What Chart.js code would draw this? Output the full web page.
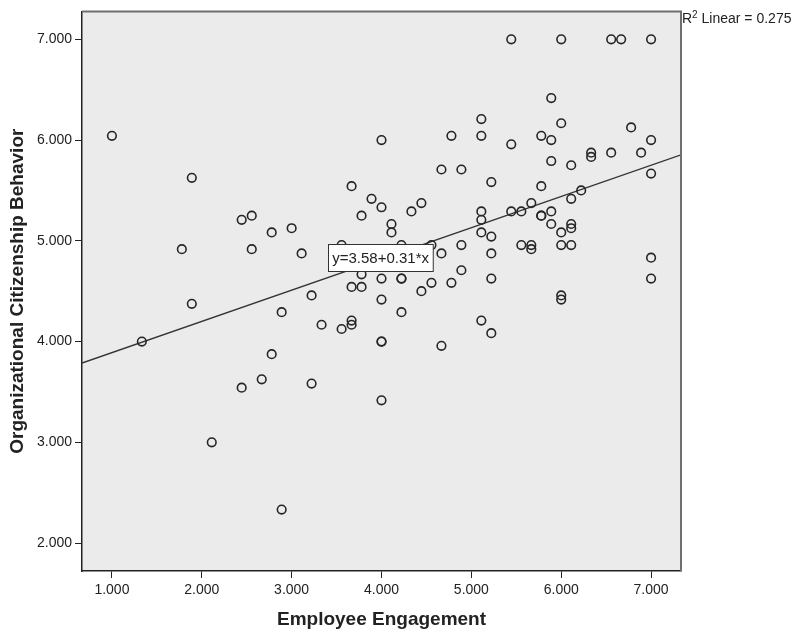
<!DOCTYPE html>
<html>
<head>
<meta charset="utf-8">
<script src="https://cdn.jsdelivr.net/npm/chart.js@4.4.1/dist/chart.umd.min.js"></script>
<style>
  html, body { margin: 0; padding: 0; background: #ffffff; }
  canvas { display: block; }
</style>
</head>
<body>
<canvas id="chart" width="793" height="633"></canvas>
<script>
// Employee engagement (x) against organizational citizenship behavior (y), one entry per respondent
const engagement = [
  1.000, 1.333, 1.778, 1.889, 1.889, 2.111, 2.444, 2.444, 2.556, 2.556,
  2.667, 2.778, 2.778, 2.889, 2.889, 3.000, 3.111, 3.222, 3.222, 3.333,
  3.556, 3.556, 3.667, 3.667, 3.667, 3.667, 3.778, 3.778, 3.778, 3.889,
  3.889, 4.000, 4.000, 4.000, 4.000, 4.000, 4.000, 4.000, 4.111, 4.111,
  4.222, 4.222, 4.222, 4.222, 4.333, 4.444, 4.444, 4.556, 4.556, 4.667,
  4.667, 4.667, 4.778, 4.778, 4.889, 4.889, 4.889, 5.111, 5.111, 5.111,
  5.111, 5.111, 5.111, 5.222, 5.222, 5.222, 5.222, 5.222, 5.444, 5.444,
  5.444, 5.556, 5.556, 5.667, 5.667, 5.667, 5.778, 5.778, 5.778, 5.778,
  5.889, 5.889, 5.889, 5.889, 5.889, 6.000, 6.000, 6.000, 6.000, 6.000,
  6.000, 6.111, 6.111, 6.111, 6.111, 6.111, 6.222, 6.333, 6.333, 6.556,
  6.556, 6.667, 6.778, 6.889, 7.000, 7.000, 7.000, 7.000, 7.000
];
const citizenship = [
  6.042, 4.000, 4.917, 5.625, 4.375, 3.000, 5.208, 3.542, 5.250, 4.917,
  3.625, 5.083, 3.875, 4.292, 2.333, 5.125, 4.875, 4.458, 3.583, 4.167,
  4.958, 4.125, 5.542, 4.542, 4.208, 4.167, 5.250, 4.667, 4.542, 5.417,
  4.917, 6.000, 5.333, 4.625, 4.417, 4.000, 4.000, 3.417, 5.167, 5.083,
  4.958, 4.625, 4.625, 4.292, 5.292, 5.375, 4.500, 4.958, 4.583, 5.708,
  4.875, 3.958, 6.042, 4.583, 5.708, 4.958, 4.708, 6.208, 6.042, 5.292,
  5.208, 5.083, 4.208, 5.583, 5.042, 4.875, 4.625, 4.083, 7.000, 5.958,
  5.292, 5.292, 4.958, 5.375, 4.958, 4.917, 6.042, 5.542, 5.250, 5.250,
  6.417, 6.000, 5.792, 5.292, 5.167, 7.000, 6.167, 5.083, 4.958, 4.458,
  4.417, 5.750, 5.417, 5.167, 5.125, 4.958, 5.500, 5.875, 5.833, 7.000,
  5.875, 7.000, 6.125, 5.875, 7.000, 6.000, 5.667, 4.833, 4.625
];

// Axis tick values
const xTickValues = [1, 2, 3, 4, 5, 6, 7];
const yTickValues = [2, 3, 4, 5, 6, 7];

// Linear fit reported on the chart
const fitIntercept = 3.58;
const fitSlope = 0.31;
const rSquared = 0.275;

const xTitle = 'Employee Engagement';
const yTitle = 'Organizational Citizenship Behavior';

// Axis ranges (SPSS-style padding around the data)
const X_MIN = 0.667, X_MAX = 7.333;
const Y_MIN = 1.723, Y_MAX = 7.277;

const FONT = '"Liberation Sans", Arial, Helvetica, sans-serif';
const INK = '#222222';

const points = engagement.map((x, i) => ({ x: x, y: citizenship[i] }));
const fitLine = [X_MIN, X_MAX].map(x => ({ x: x, y: fitIntercept + fitSlope * x }));

// Plot-area fill, frame, fit equation box and R² note
const plotDecor = {
  id: 'plotDecor',
  beforeDraw(chart) {
    const a = chart.chartArea, ctx = chart.ctx;
    ctx.save();
    ctx.fillStyle = '#EBEBEB';
    ctx.fillRect(a.left, a.top, a.right - a.left, a.bottom - a.top);
    ctx.restore();
  },
  afterDraw(chart) {
    const a = chart.chartArea, ctx = chart.ctx;
    const xs = chart.scales.x, ys = chart.scales.y;
    ctx.save();
    // top and right edges of the frame
    ctx.strokeStyle = '#6f6f6f';
    ctx.lineWidth = 2;
    ctx.beginPath();
    ctx.moveTo(a.left, a.top);
    ctx.lineTo(a.right, a.top);
    ctx.lineTo(a.right, a.bottom);
    ctx.stroke();

    // equation box
    const label = 'y=' + fitIntercept.toFixed(2) + '+' + fitSlope.toFixed(2) + '*x';
    ctx.font = '15px ' + FONT;
    const tw = ctx.measureText(label).width;
    const cx = xs.getPixelForValue(3.99);
    const cy = ys.getPixelForValue(4.835);
    const bw = tw + 8, bh = 27;
    const bx = Math.round(cx - bw / 2) + 0.5, by = Math.round(cy - bh / 2) + 0.5;
    ctx.fillStyle = '#ffffff';
    ctx.fillRect(bx, by, bw, bh);
    ctx.strokeStyle = '#333333';
    ctx.lineWidth = 1;
    ctx.strokeRect(bx, by, bw, bh);
    ctx.fillStyle = INK;
    ctx.textAlign = 'center';
    ctx.textBaseline = 'middle';
    ctx.fillText(label, cx, by + bh / 2 + 1);

    // R² Linear note
    ctx.textAlign = 'left';
    ctx.textBaseline = 'alphabetic';
    let tx = a.right + 1;
    const base = 23;
    ctx.font = '14px ' + FONT;
    ctx.fillText('R', tx, base);
    tx += ctx.measureText('R').width;
    ctx.font = '10px ' + FONT;
    ctx.fillText('2', tx, base - 5);
    tx += ctx.measureText('2').width;
    ctx.font = '14px ' + FONT;
    ctx.fillText(' Linear = ' + rSquared.toFixed(3), tx, base);
    ctx.restore();
  }
};

new Chart(document.getElementById('chart'), {
  type: 'scatter',
  data: {
    datasets: [
      {
        type: 'line',
        data: fitLine,
        borderColor: '#333333',
        borderWidth: 1.3,
        pointRadius: 0,
        fill: false,
        order: 2
      },
      {
        data: points,
        pointStyle: 'circle',
        pointRadius: 4.3,
        pointBorderWidth: 1.6,
        pointBorderColor: '#262626',
        pointBackgroundColor: 'rgba(0,0,0,0)',
        order: 1
      }
    ]
  },
  options: {
    responsive: false,
    animation: false,
    devicePixelRatio: 1,
    layout: { padding: { top: 9, right: 112, left: 0, bottom: 0 } },
    plugins: {
      legend: { display: false },
      tooltip: { enabled: false }
    },
    scales: {
      x: {
        type: 'linear',
        min: X_MIN,
        max: X_MAX,
        afterBuildTicks: s => { s.ticks = xTickValues.map(v => ({ value: v })); },
        afterFit: s => { s.height = 62; },
        ticks: {
          autoSkip: false,
          maxRotation: 0,
          padding: 4,
          color: INK,
          font: { family: FONT, size: 14 },
          callback: v => Number(v).toFixed(3)
        },
        grid: { drawOnChartArea: false, drawTicks: true, tickLength: 7, color: INK, lineWidth: 1 },
        border: { display: true, color: INK, width: 1.5 },
        title: {
          display: true,
          text: xTitle,
          color: INK,
          font: { family: FONT, size: 19, weight: 'bold' },
          padding: { top: 0, bottom: 2 }
        }
      },
      y: {
        type: 'linear',
        min: Y_MIN,
        max: Y_MAX,
        afterBuildTicks: s => { s.ticks = yTickValues.map(v => ({ value: v })); },
        afterFit: s => { s.width = 82; },
        ticks: {
          autoSkip: false,
          padding: 3,
          color: INK,
          font: { family: FONT, size: 14 },
          callback: v => Number(v).toFixed(3)
        },
        grid: { drawOnChartArea: false, drawTicks: true, tickLength: 7, color: INK, lineWidth: 1 },
        border: { display: true, color: INK, width: 1.5 },
        title: {
          display: true,
          text: yTitle,
          color: INK,
          font: { family: FONT, size: 19, weight: 'bold' },
          padding: { top: 6, bottom: 0 }
        }
      }
    }
  },
  plugins: [plotDecor]
});
</script>
</body>
</html>
